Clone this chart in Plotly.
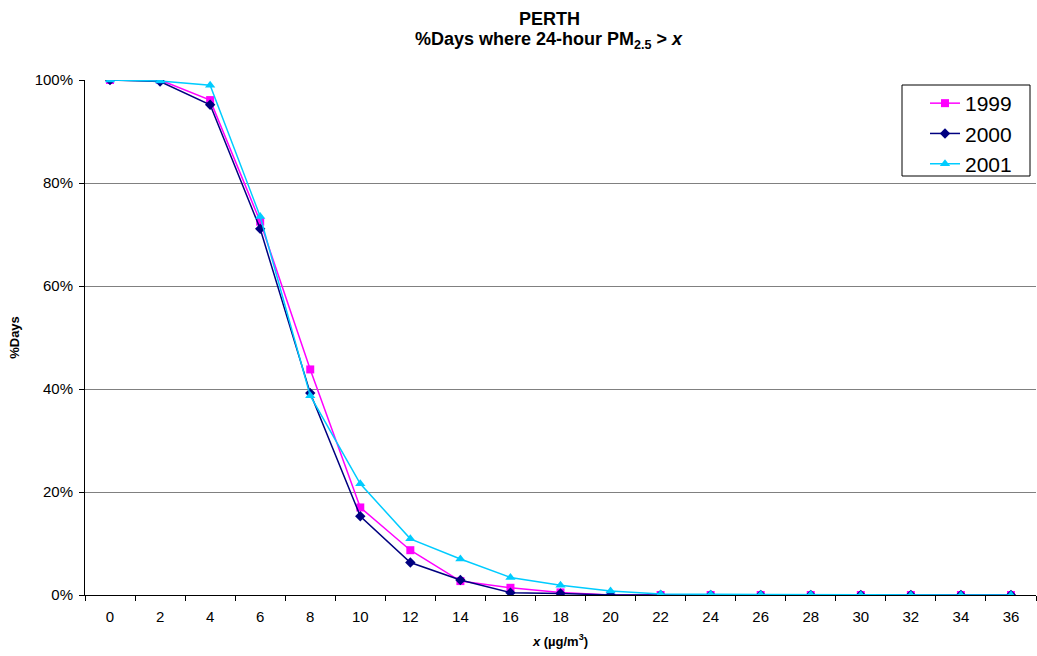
import plotly.graph_objects as go

x_vals = [0, 2, 4, 6, 8, 10, 12, 14, 16, 18, 20, 22, 24, 26, 28, 30, 32, 34, 36]
y1999 = [100, 100, 96.1, 72.5, 43.8, 17.0, 8.7, 2.7, 1.4, 0.5, 0.0, 0.0, 0.0, 0.0, 0.0, 0.0, 0.0, 0.0, 0.0]
y2000 = [100, 99.7, 95.2, 71.1, 39.2, 15.3, 6.3, 2.9, 0.45, 0.3, 0.0, 0.0, 0.0, 0.0, 0.0, 0.0, 0.0, 0.0, 0.0]
y2001 = [100, 99.8, 99.0, 73.5, 38.7, 21.6, 10.9, 7.0, 3.4, 1.9, 0.8, 0.2, 0.15, 0.1, 0.1, 0.0, 0.0, 0.0, 0.0]

cats = [str(v) for v in x_vals]
font = "Liberation Sans, Arial, sans-serif"

fig = go.Figure()
series = [
    ("1999", y1999, "#FF00FF", "square", 8),
    ("2000", y2000, "#000080", "diamond", 8),
    ("2001", y2001, "#00CCFF", "triangle-up", 9),
]
for name, ys, col, sym, sz in series:
    fig.add_trace(go.Scatter(
        x=cats, y=[v / 100 for v in ys], name=name, mode="lines+markers",
        line=dict(color=col, width=1.5),
        marker=dict(symbol=sym, size=sz, color=col),
    ))

pw = 1037 - 85 - 1
ph = 656 - 80 - 61
fig.update_layout(
    width=1037, height=656,
    margin=dict(l=85, r=1, t=80, b=61),
    paper_bgcolor="white", plot_bgcolor="white",
    font=dict(family=font, size=13, color="black"),
    showlegend=True,
    legend=dict(x=(925 - 85) / pw, y=(595 - 83) / ph, xanchor="left", yanchor="top",
                bgcolor="rgba(0,0,0,0)", borderwidth=0,
                font=dict(size=21, family=font), tracegroupgap=0,
                itemwidth=30),
    shapes=[
        dict(type="rect", xref="paper", yref="paper",
             x0=(902 - 85) / pw, x1=(1030 - 85) / pw,
             y0=(595 - 176) / ph, y1=(595 - 85) / ph,
             line=dict(color="black", width=1), fillcolor="white", layer="above"),
    ],
    annotations=[
        dict(text="<b>PERTH</b>", x=(549 - 85) / pw, y=(595 - 19) / ph,
             xref="paper", yref="paper", yanchor="middle", xanchor="center",
             showarrow=False, font=dict(size=18)),
        dict(text="<b>%Days where 24-hour PM<sub>2.5</sub> > <i>x</i></b>",
             x=(549 - 85) / pw, y=(595 - 40) / ph,
             xref="paper", yref="paper", yanchor="middle", xanchor="center",
             showarrow=False, font=dict(size=18)),
    ],
)

fig.update_xaxes(
    type="category", tickson="boundaries", ticks="outside", ticklen=5,
    range=[-0.5, 18.5], ticklabelstandoff=8,
    tickcolor="black", showline=True, linecolor="black", linewidth=1,
    showgrid=False, tickfont=dict(size=15),
    title=dict(text="<b><i>x</i> (µg/m<sup>3</sup>)</b>", font=dict(size=13), standoff=12),
)
fig.update_yaxes(
    range=[0, 1], dtick=0.2, tickformat=".0%", ticks="outside", ticklen=5,
    tickcolor="black", showline=True, linecolor="black", linewidth=1,
    showgrid=True, gridcolor="#808080", gridwidth=1, zeroline=False,
    tickfont=dict(size=15), ticklabelstandoff=3,
    title=dict(text="<b>%Days</b>", font=dict(size=13), standoff=12),
)

fig.write_html("out.html")
